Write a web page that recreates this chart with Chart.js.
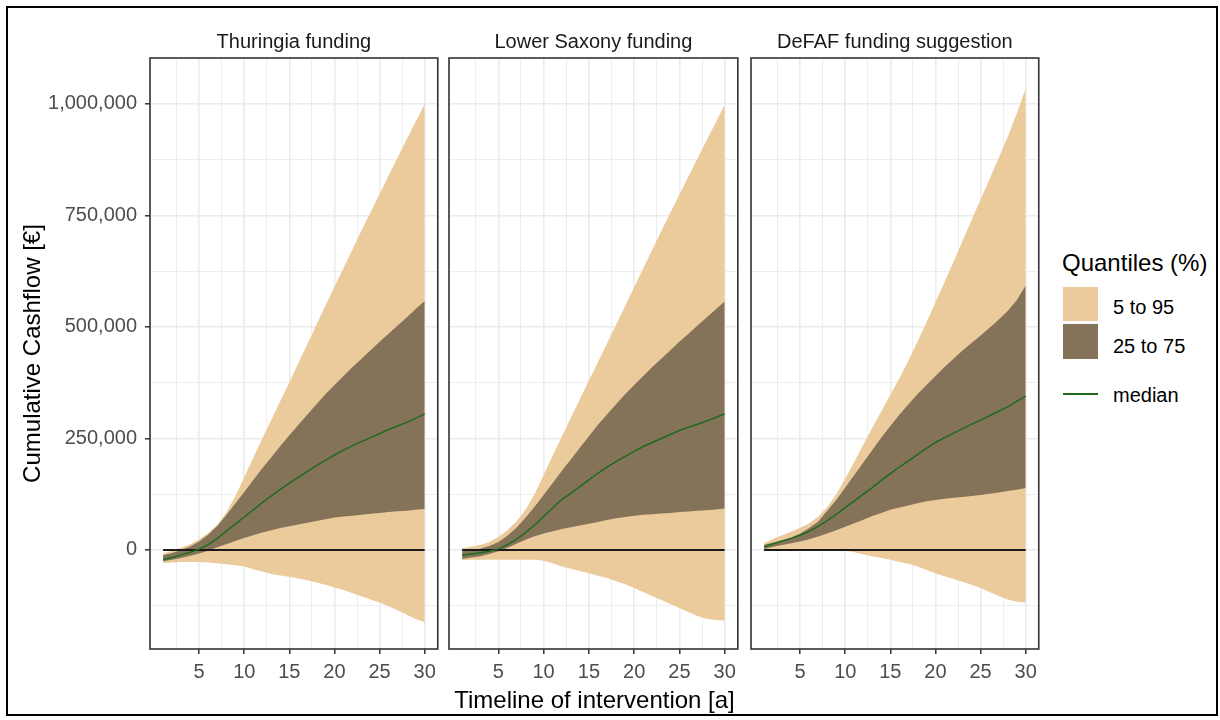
<!DOCTYPE html>
<html>
<head>
<meta charset="utf-8">
<script src="https://cdn.jsdelivr.net/npm/chart.js@4.4.1/dist/chart.umd.min.js"></script>
<style>
    body { margin: 0; background: #fff; }
    #page { position: relative; width: 1220px; height: 720px; overflow: hidden; background: #fff;
            font-family: "Liberation Sans", Arial, sans-serif; }
    #page canvas { position: absolute; top: 0; }
    #frame { position: absolute; left: 6px; top: 6px; width: 1212px; height: 710px;
             box-sizing: border-box; border: 2px solid #000; pointer-events: none; }
    .xtitle { position: absolute; left: 150px; width: 889px; top: 686px; text-align: center;
              font-size: 24px; line-height: 28px; color: #000; }
    .lg-title { position: absolute; left: 1062px; top: 249px; font-size: 24px; line-height: 28px; color: #000; }
    .lg-key { position: absolute; left: 1063px; width: 35px; }
    .lg-label { position: absolute; left: 1113px; font-size: 20px; line-height: 24px; color: #000; }
</style>
</head>
<body>
<div id="page">
    <canvas id="thu" width="442" height="700" style="left:0px"></canvas>
    <canvas id="lsx" width="297" height="700" style="left:445px"></canvas>
    <canvas id="def" width="296" height="700" style="left:747px"></canvas>

    <div class="xtitle">Timeline of intervention [a]</div>

    <div class="lg-title">Quantiles (%)</div>
    <div class="lg-key" style="top:287px;height:34px;background:#EBCB9C"></div>
    <div class="lg-label" style="top:295px">5 to 95</div>
    <div class="lg-key" style="top:324px;height:35px;background:#857359"></div>
    <div class="lg-label" style="top:334px">25 to 75</div>
    <div class="lg-key" style="top:393px;height:2px;background:#1E6B1E"></div>
    <div class="lg-label" style="top:383px">median</div>

    <div id="frame"></div>
</div>

<script>
// ============================================
// DATA (years of intervention, cumulative cashflow in EUR)
// ============================================

const years = [1, 2, 3, 4, 5, 6, 7, 8, 9, 10, 11, 12, 13, 14, 15,
               16, 17, 18, 19, 20, 21, 22, 23, 24, 25, 26, 27, 28, 29, 30];
const zeroYears = [1, 30];

// grid / tick positions (labels only on the major ones)
const xTicks = [2.5, 5, 7.5, 10, 12.5, 15, 17.5, 20, 22.5, 25, 27.5, 30];
const xTickLabels = [5, 10, 15, 20, 25, 30];
const yTicks = [-125000, 0, 125000, 250000, 375000, 500000, 625000, 750000, 875000, 1000000];
const yTickLabels = [0, 250000, 500000, 750000, 1000000];

// Thuringia funding
const thuQ95 = [-8000, -2000, 5000, 13000, 24000, 38000, 56000, 84000, 120000, 163000,
                207000, 250000, 292000, 334000, 376000, 419000, 462000, 505000, 548000, 590000,
                632000, 674000, 716000, 757000, 798000, 839000, 880000, 920000, 960000, 1000000];
const thuQ75 = [-12000, -7000, 0, 8000, 19000, 34000, 54000, 78000, 104000, 130000,
                157000, 183000, 208000, 233000, 257000, 281000, 304000, 327000, 349000, 370000,
                390000, 410000, 429000, 448000, 467000, 485000, 503000, 521000, 540000, 558000];
const thuMedian = [-22000, -17000, -11000, -5000, 2000, 12000, 26000, 42000, 58000, 74000,
                   90000, 106000, 121000, 136000, 150000, 163000, 176000, 189000, 201000, 213000,
                   224000, 234000, 243000, 252000, 261000, 270000, 278000, 286000, 295000, 305000];
const thuQ25 = [-25000, -22000, -18000, -13000, -8000, -2000, 6000, 13000, 20000, 27000,
                33000, 39000, 44000, 49000, 53000, 57000, 61000, 65000, 69000, 73000,
                75000, 77000, 79000, 81000, 83000, 85000, 87000, 88000, 90000, 92000];
const thuQ05 = [-30000, -28000, -27000, -27000, -27000, -28000, -30000, -32000, -34000, -37000,
                -43000, -48000, -54000, -57000, -60000, -64000, -68000, -73000, -78000, -84000,
                -90000, -97000, -104000, -111000, -118000, -126000, -135000, -145000, -155000, -162000];

// Lower Saxony funding
const lsxQ95 = [4000, 7000, 11000, 18000, 29000, 44000, 64000, 90000, 125000, 168000,
                212000, 254000, 296000, 338000, 380000, 421000, 463000, 505000, 547000, 589000,
                631000, 673000, 715000, 756000, 797000, 838000, 878000, 918000, 958000, 998000];
const lsxQ75 = [-3000, 0, 3000, 9000, 18000, 32000, 50000, 72000, 97000, 123000,
                150000, 177000, 203000, 229000, 255000, 281000, 304000, 327000, 349000, 370000,
                390000, 410000, 429000, 448000, 467000, 485000, 503000, 521000, 539000, 557000];
const lsxMedian = [-12000, -9000, -6000, -3000, 2000, 12000, 24000, 39000, 56000, 75000,
                   94000, 113000, 127000, 142000, 157000, 172000, 186000, 198000, 210000, 221000,
                   232000, 241000, 250000, 259000, 268000, 275000, 282000, 289000, 297000, 305000];
const lsxQ25 = [-20000, -17000, -14000, -9000, -3000, 5000, 14000, 23000, 31000, 37000,
                42000, 47000, 51000, 55000, 59000, 63000, 67000, 71000, 74000, 77000,
                79000, 80000, 82000, 83000, 85000, 86000, 88000, 89000, 91000, 93000];
const lsxQ05 = [-23000, -22000, -22000, -22000, -22000, -22000, -22000, -22000, -22000, -24000,
                -30000, -37000, -42000, -47000, -52000, -58000, -63000, -70000, -77000, -85000,
                -94000, -103000, -112000, -121000, -130000, -139000, -148000, -154000, -157000, -158000];

// DeFAF funding suggestion
const defQ95 = [15000, 25000, 33000, 41000, 50000, 60000, 75000, 96000, 125000, 160000,
                198000, 236000, 274000, 311000, 348000, 385000, 425000, 467000, 510000, 555000,
                600000, 646000, 693000, 740000, 786000, 832000, 878000, 926000, 978000, 1035000];
const defQ75 = [12000, 16000, 21000, 28000, 37000, 49000, 64000, 88000, 112000, 140000,
                168000, 196000, 224000, 252000, 278000, 303000, 327000, 349000, 370000, 390000,
                410000, 429000, 447000, 464000, 481000, 498000, 516000, 536000, 560000, 593000];
const defMedian = [7000, 14000, 20000, 26000, 33000, 42000, 53000, 66000, 80000, 95000,
                   110000, 125000, 140000, 156000, 171000, 186000, 200000, 214000, 228000, 241000,
                   252000, 262000, 272000, 282000, 291000, 301000, 311000, 321000, 333000, 345000];
const defQ25 = [2000, 7000, 11000, 15000, 19000, 24000, 30000, 37000, 44000, 52000,
                60000, 68000, 76000, 83000, 90000, 95000, 100000, 105000, 109000, 112000,
                115000, 117000, 119000, 121000, 123000, 126000, 129000, 132000, 135000, 139000];
const defQ05 = [0, 1000, 1000, 1000, 1000, 1000, 1000, 0, 0, -1000,
                -5000, -10000, -14000, -18000, -22000, -27000, -31000, -37000, -45000, -53000,
                -59000, -65000, -71000, -78000, -85000, -94000, -103000, -111000, -116000, -118000];

// ============================================
// STYLE
// ============================================

const LIGHT_FILL = '#EBCB9C';
const DARK_FILL = '#857359';
const MEDIAN_COLOR = '#1E6B1E';
const GRID_COLOR = '#EBEBEB';
const TICK_COLOR = '#333333';
const NONE = 'rgba(0,0,0,0)';

Chart.defaults.font.family = '"Liberation Sans", Arial, sans-serif';

// ggplot-like panel border around the plotting area
const panelBorder = {
    id: 'panelBorder',
    afterDatasetsDraw(chart) {
        const { ctx, chartArea: a } = chart;
        ctx.save();
        ctx.strokeStyle = '#333333';
        ctx.lineWidth = 1.6;
        ctx.strokeRect(a.left, a.top, a.right - a.left, a.bottom - a.top);
        ctx.restore();
    }
};

function points(values) {
    return years.map((t, i) => ({ x: t, y: values[i] }));
}

function isMajorX(v) { return xTickLabels.includes(v); }
function isMajorY(v) { return yTickLabels.includes(v); }

function renderPanel(canvasId, title, q05, q25, median, q75, q95, showY) {
    const ctx = document.getElementById(canvasId);
    return new Chart(ctx, {
        type: 'line',
        data: {
            datasets: [
                { label: '5 to 95', data: points(q95), fill: '+1', backgroundColor: LIGHT_FILL,
                  borderColor: NONE, borderWidth: 0, pointRadius: 0, order: 6 },
                { label: 'q05', data: points(q05), fill: false,
                  borderColor: NONE, borderWidth: 0, pointRadius: 0, order: 5 },
                { label: '25 to 75', data: points(q75), fill: '+1', backgroundColor: DARK_FILL,
                  borderColor: NONE, borderWidth: 0, pointRadius: 0, order: 4 },
                { label: 'q25', data: points(q25), fill: false,
                  borderColor: NONE, borderWidth: 0, pointRadius: 0, order: 3 },
                { label: 'zero', data: zeroYears.map(t => ({ x: t, y: 0 })), fill: false,
                  borderColor: '#1A1A1A', borderWidth: 2, pointRadius: 0, order: 2 },
                { label: 'median', data: points(median), fill: false,
                  borderColor: MEDIAN_COLOR, borderWidth: 1.5, pointRadius: 0, order: 1 }
            ]
        },
        options: {
            responsive: false,
            animation: false,
            events: [],
            layout: {
                autoPadding: false,
                padding: { left: showY ? 0 : 4, top: 30, right: 4, bottom: 11 }
            },
            plugins: {
                legend: { display: false },
                tooltip: { enabled: false },
                title: {
                    display: true,
                    text: title,
                    fullSize: false,
                    color: '#1A1A1A',
                    font: { size: 20, weight: 'normal' },
                    padding: { top: 0, bottom: 4 }
                }
            },
            scales: {
                x: {
                    type: 'linear',
                    min: -0.45,
                    max: 31.45,
                    afterBuildTicks: (scale) => { scale.ticks = xTicks.map(v => ({ value: v })); },
                    afterFit: (scale) => { scale.height = 40; },
                    border: { display: false },
                    grid: {
                        color: GRID_COLOR,
                        lineWidth: (c) => isMajorX(c.tick.value) ? 1.6 : 0.9,
                        tickLength: 5,
                        tickWidth: 1.5,
                        tickColor: (c) => isMajorX(c.tick.value) ? TICK_COLOR : NONE
                    },
                    ticks: {
                        autoSkip: false,
                        maxRotation: 0,
                        padding: 6,
                        color: '#4D4D4D',
                        font: { size: 20 },
                        callback: (v) => isMajorX(v) ? String(v) : ''
                    }
                },
                y: {
                    type: 'linear',
                    min: -222000,
                    max: 1103000,
                    afterBuildTicks: (scale) => { scale.ticks = yTicks.map(v => ({ value: v })); },
                    afterFit: (scale) => { scale.width = showY ? 150 : 0; },
                    border: { display: false },
                    grid: {
                        color: GRID_COLOR,
                        lineWidth: (c) => isMajorY(c.tick.value) ? 1.6 : 0.9,
                        drawTicks: showY,
                        tickLength: 5,
                        tickWidth: 1.5,
                        tickColor: (c) => isMajorY(c.tick.value) ? TICK_COLOR : NONE
                    },
                    ticks: {
                        display: showY,
                        autoSkip: false,
                        padding: 8,
                        color: '#4D4D4D',
                        font: { size: 20 },
                        callback: (v) => isMajorY(v) ? v.toLocaleString('en-US') : ''
                    },
                    title: {
                        display: showY,
                        text: 'Cumulative Cashflow [€]',
                        color: '#000',
                        font: { size: 24 },
                        padding: { top: 19, bottom: 0 }
                    }
                }
            }
        },
        plugins: [panelBorder]
    });
}

renderPanel('thu', 'Thuringia funding', thuQ05, thuQ25, thuMedian, thuQ75, thuQ95, true);
renderPanel('lsx', 'Lower Saxony funding', lsxQ05, lsxQ25, lsxMedian, lsxQ75, lsxQ95, false);
renderPanel('def', 'DeFAF funding suggestion', defQ05, defQ25, defMedian, defQ75, defQ95, false);
</script>
</body>
</html>
